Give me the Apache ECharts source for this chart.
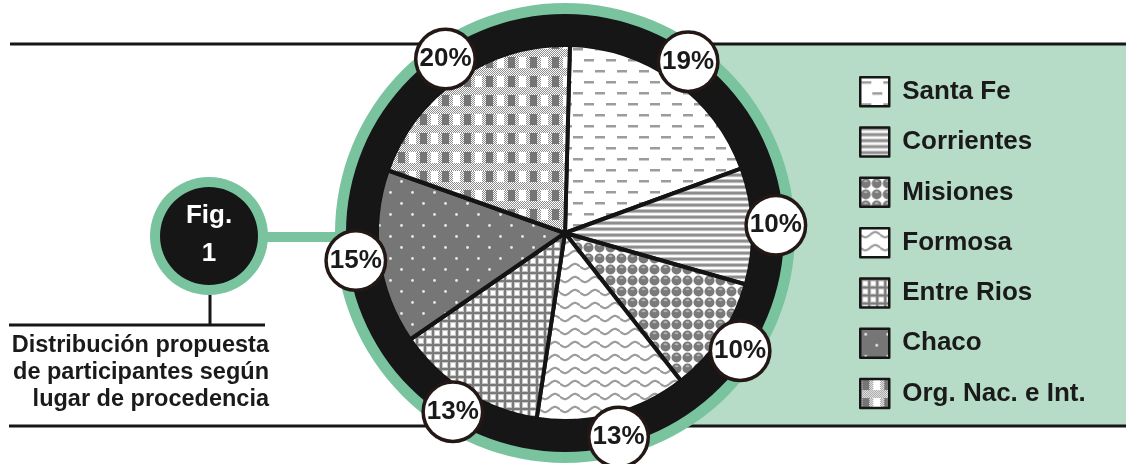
<!DOCTYPE html>
<html>
<head>
<meta charset="utf-8">
<script src="https://cdn.jsdelivr.net/npm/echarts@6/dist/echarts.min.js"></script>
<style>
html,body{margin:0;padding:0;background:#fff;}
#chart{width:1126px;height:464px;}
</style>
</head>
<body>
<div id="chart"></div>
<script>
const categories = ['Santa Fe', 'Corrientes', 'Misiones', 'Formosa', 'Entre Rios', 'Chaco', 'Org. Nac. e Int.'];
const values = [19, 10, 10, 13, 13, 15, 20];
const captionLines = ['Distribución propuesta', 'de participantes según', 'lugar de procedencia'];
const figLines = ['Fig.', '1'];

const FONT = '"Liberation Sans", Arial, sans-serif';
const CX = 565, CY = 233, R = 188;
const GREEN = '#79c49f', LIGHT = '#b6dcc8', INK = '#161616';

function mk(w, h, draw) {
  const c = document.createElement('canvas');
  c.width = w; c.height = h;
  const g = c.getContext('2d');
  draw(g, w, h);
  return { image: c, repeat: 'repeat' };
}
const patterns = [
  // Santa Fe: staggered dashes
  mk(22, 22, (g) => {
    g.fillStyle = '#fff'; g.fillRect(0, 0, 22, 22);
    g.fillStyle = '#9c9c9c';
    g.fillRect(1, 4, 10, 2.5); g.fillRect(12, 15, 10, 2.5);
  }),
  // Corrientes: horizontal stripes
  mk(4, 6, (g) => {
    const cols = ['#8e8e8e', '#8e8e8e', '#b8b8b8', '#f6f6f6', '#ffffff', '#c6c6c6'];
    cols.forEach((c, i) => { g.fillStyle = c; g.fillRect(0, i, 4, 1); });
  }),
  // Misiones: balls
  mk(11, 11, (g) => {
    g.fillStyle = '#fff'; g.fillRect(0, 0, 11, 11);
    g.fillStyle = '#7a7a7a';
    g.beginPath(); g.arc(5.5, 5.5, 5, 0, Math.PI * 2); g.fill();
    g.fillStyle = '#b4b4b4';
    g.beginPath(); g.ellipse(5.5, 3.2, 2, 1, 0, 0, Math.PI * 2); g.fill();
  }),
  // Formosa: waves
  mk(20, 13, (g) => {
    g.fillStyle = '#fff'; g.fillRect(0, 0, 20, 13);
    g.strokeStyle = '#9c9c9c'; g.lineWidth = 2.2;
    g.beginPath();
    for (let x = 0; x <= 20; x += 0.5) {
      const y = 6.5 + 2.6 * Math.sin(x / 20 * Math.PI * 2);
      if (x === 0) g.moveTo(x, y); else g.lineTo(x, y);
    }
    g.stroke();
  }),
  // Entre Rios: grid
  mk(8, 8, (g) => {
    g.fillStyle = '#fff'; g.fillRect(0, 0, 8, 8);
    g.fillStyle = '#c4c4c4'; g.fillRect(0, 0, 8, 4); g.fillRect(0, 0, 4, 8);
    g.fillStyle = '#fff'; g.fillRect(3, 3, 5, 5);
    g.fillStyle = '#c4c4c4'; g.fillRect(0, 7, 8, 1); g.fillRect(7, 0, 1, 8);
    g.fillStyle = '#7a7a7a'; g.fillRect(0, 0, 8, 2); g.fillRect(0, 0, 2, 8);
  }),
  // Chaco: white dots on gray
  mk(22, 22, (g) => {
    g.fillStyle = '#767676'; g.fillRect(0, 0, 22, 22);
    g.fillStyle = '#e8e8e8';
    g.beginPath(); g.arc(5.5, 5.5, 1.4, 0, Math.PI * 2); g.fill();
    g.beginPath(); g.arc(16.5, 16.5, 1.4, 0, Math.PI * 2); g.fill();
  }),
  // Org. Nac. e Int.: gingham with stipple
  mk(22, 19, (g) => {
    for (let y = 0; y < 19; y++) for (let x = 0; x < 22; x++) {
      g.fillStyle = ((x + y) % 2) ? '#8c8c8c' : '#ffffff';
      g.fillRect(x, y, 1, 1);
    }
    g.fillStyle = '#767676'; g.fillRect(2, 0, 7, 11);
    g.fillStyle = '#ffffff'; g.fillRect(13, 0, 7, 11);
  })
];

const pieData = categories.map((n, i) => ({ name: n, value: values[i], itemStyle: { color: patterns[i] } }));
const labelData = categories.map((n, i) => ({ name: n, value: values[i] }));

const graphics = [
  { type: 'rect', z: 0, shape: { x: CX, y: 44, width: 1126 - CX, height: 382 }, style: { fill: LIGHT } },
  { type: 'line', z: 1, shape: { x1: 10, y1: 44, x2: 1126, y2: 44 }, style: { stroke: INK, lineWidth: 3 } },
  { type: 'line', z: 1, shape: { x1: 9, y1: 426, x2: 1126, y2: 426 }, style: { stroke: INK, lineWidth: 3 } },
  { type: 'rect', z: 1, shape: { x: 262, y: 232, width: 110, height: 10 }, style: { fill: GREEN } },
  { type: 'circle', z: 1, shape: { cx: 209, cy: 236, r: 59 }, style: { fill: GREEN } },
  { type: 'circle', z: 1, shape: { cx: 209, cy: 236, r: 49 }, style: { fill: INK } },
  { type: 'text', z: 2, style: { text: figLines[0], x: 209, y: 216, align: 'center', verticalAlign: 'middle', fill: '#fff', font: 'bold 26px ' + FONT } },
  { type: 'text', z: 2, style: { text: figLines[1], x: 209, y: 254, align: 'center', verticalAlign: 'middle', fill: '#fff', font: 'bold 26px ' + FONT } },
  { type: 'line', z: 1, shape: { x1: 210, y1: 295, x2: 210, y2: 325 }, style: { stroke: INK, lineWidth: 3 } },
  { type: 'line', z: 1, shape: { x1: 9, y1: 325, x2: 265, y2: 325 }, style: { stroke: INK, lineWidth: 3 } },
  { type: 'ring', z: 3, shape: { cx: CX, cy: CY, r: 230, r0: 218 }, style: { fill: GREEN } },
  { type: 'ring', z: 3, shape: { cx: CX, cy: CY, r: 219, r0: 187 }, style: { fill: INK } }
];
captionLines.forEach((t, i) => {
  graphics.push({ type: 'text', z: 2, style: { text: t, x: 269, y: 346 + i * 27, align: 'right', verticalAlign: 'middle', fill: '#1a1a1a', font: 'bold 23.5px ' + FONT } });
});

const chart = echarts.init(document.getElementById('chart'), null, { renderer: 'canvas' });
chart.setOption({
  backgroundColor: '#ffffff',
  animation: false,
  graphic: { elements: graphics },
  legend: {
    data: categories,
    orient: 'vertical',
    left: 854, top: 71,
    itemWidth: 29, itemHeight: 29, itemGap: 18.8,
    icon: 'rect',
    selectedMode: false,
    itemStyle: { borderColor: INK, borderWidth: 2.5 },
    textStyle: { fontFamily: FONT, fontSize: 26, lineHeight: 29, fontWeight: 'bold', color: '#1a1a1a', padding: [0, 0, 0, 8] }
  },
  series: [
    {
      type: 'pie', z: 2, silent: true,
      center: [CX, CY], radius: [0, R], startAngle: 88.5, clockwise: true,
      label: { show: false }, labelLine: { show: false },
      itemStyle: { borderColor: '#141414', borderWidth: 4 },
      emphasis: { disabled: true },
      data: pieData
    },
    {
      type: 'pie', z: 5, silent: true,
      center: [CX, CY], radius: [188, 228], startAngle: 88.5, clockwise: true,
      itemStyle: { color: 'rgba(0,0,0,0)', borderWidth: 0 },
      emphasis: { disabled: true },
      labelLine: { show: false },
      label: {
        show: true, position: 'inside', formatter: '{c}%',
        fontFamily: FONT, fontSize: 26, fontWeight: 'bold', color: '#1a1a1a',
        backgroundColor: '#ffffff', borderColor: '#231815', borderWidth: 3.5,
        width: 56, height: 56, lineHeight: 56, borderRadius: 28, align: 'center', padding: 0
      },
      data: labelData
    }
  ]
});
</script>
</body>
</html>
